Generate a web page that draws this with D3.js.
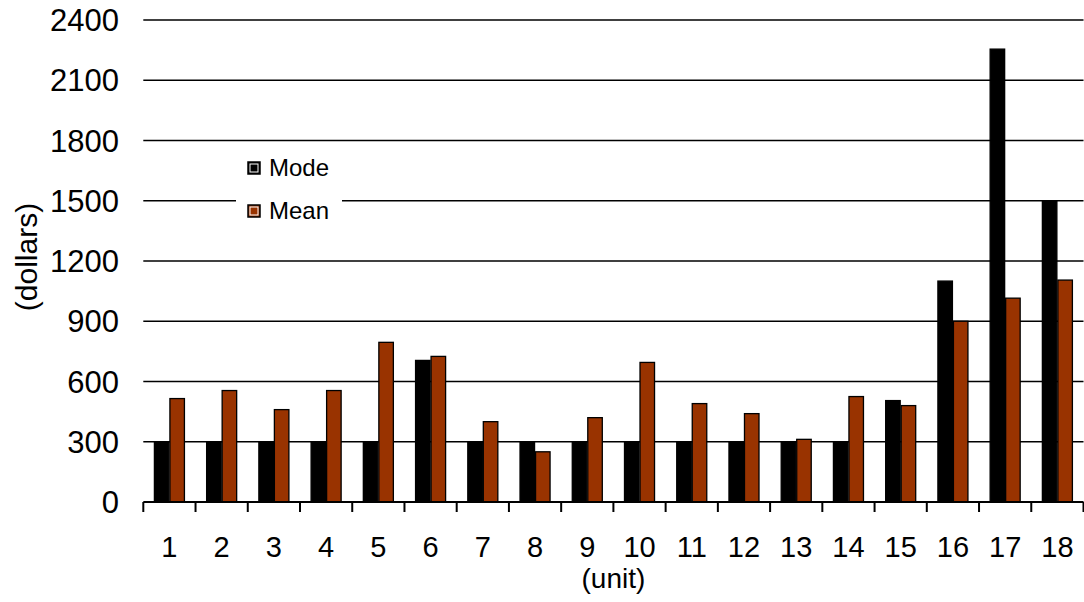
<!DOCTYPE html>
<html>
<head>
<meta charset="utf-8">
<script src="https://cdn.jsdelivr.net/npm/d3@7"></script>
<style>
  body { margin: 0; background: #fff; }
  svg { display: block; font-family: "Liberation Sans", Arial, sans-serif; }
</style>
</head>
<body>
<svg id="chart" width="1084" height="602"></svg>
<script>
const categories = ["1","2","3","4","5","6","7","8","9","10","11","12","13","14","15","16","17","18"];
const modeValues = [300,300,300,300,300,705,300,300,300,300,300,300,300,300,505,1100,2255,1500];
const meanValues = [515,555,460,555,795,725,400,250,420,695,490,440,312,525,480,900,1015,1105];
const yTicks = [0,300,600,900,1200,1500,1800,2100,2400];
const seriesNames = ["Mode","Mean"];
const seriesColors = ["#000000","#993300"];

(function () {
const svg = d3.select("#chart");
const pLeft = 143.3, pRight = 1083.5, pTop = 20, pBottom = 502;

const x0 = d3.scaleBand().domain(categories).range([pLeft, pRight]).paddingInner(0.406).paddingOuter(0.203);
const x1 = d3.scaleBand().domain(seriesNames).range([0, x0.bandwidth()]).padding(0);
const y = d3.scaleLinear().domain([0, 2400]).range([pBottom, pTop]);

// gridlines
svg.append("g").selectAll("line").data(yTicks.filter(d => d > 0)).join("line")
  .attr("x1", pLeft).attr("x2", pRight)
  .attr("y1", d => y(d)).attr("y2", d => y(d))
  .attr("stroke", "#000").attr("stroke-width", 1.6);

// y tick labels
svg.append("g").selectAll("text").data(yTicks).join("text")
  .attr("x", 119).attr("y", d => y(d)).attr("dy", "0.36em")
  .attr("text-anchor", "end").attr("font-size", 31).attr("fill", "#000")
  .text(d => d);

// bars
const data = categories.map((c, i) => ({cat: c, vals: [
  {s: "Mode", v: modeValues[i], c: seriesColors[0]},
  {s: "Mean", v: meanValues[i], c: seriesColors[1]}
]}));
const groups = svg.append("g").selectAll("g").data(data).join("g")
  .attr("transform", d => `translate(${x0(d.cat)},0)`);
groups.selectAll("rect").data(d => d.vals).join("rect")
  .attr("x", d => x1(d.s) + 0.5)
  .attr("width", x1.bandwidth() - 1)
  .attr("y", d => y(d.v))
  .attr("height", d => pBottom - y(d.v))
  .attr("fill", d => d.c)
  .attr("stroke", "#000").attr("stroke-width", 1.3);

// x axis line + ticks
const step = x0.step();
const boundaries = d3.range(categories.length + 1).map(i => pLeft + i * step);
svg.append("line").attr("x1", pLeft).attr("x2", pRight).attr("y1", pBottom).attr("y2", pBottom)
  .attr("stroke", "#000").attr("stroke-width", 2);
svg.append("g").selectAll("line").data(boundaries).join("line")
  .attr("x1", d => d).attr("x2", d => d).attr("y1", pBottom).attr("y2", pBottom + 10)
  .attr("stroke", "#000").attr("stroke-width", 2);

// x tick labels
svg.append("g").selectAll("text").data(categories).join("text")
  .attr("x", d => x0(d) + x0.bandwidth() / 2).attr("y", 557)
  .attr("text-anchor", "middle").attr("font-size", 29).attr("fill", "#000")
  .text(d => d);

// axis titles
svg.append("text").attr("x", (pLeft + pRight) / 2).attr("y", 588)
  .attr("text-anchor", "middle").attr("font-size", 28).text("(unit)");
svg.append("text").attr("transform", "translate(37,257) rotate(-90)")
  .attr("text-anchor", "middle").attr("font-size", 30).text("(dollars)");

// legend
const lg = svg.append("g");
lg.append("rect").attr("x", 236).attr("y", 146).attr("width", 106).attr("height", 80).attr("fill", "#fff");
const items = lg.selectAll("g").data(seriesNames).join("g")
  .attr("transform", (d, i) => `translate(248,${162 + i * 43})`);
items.append("rect").attr("x", 0).attr("y", 0).attr("width", 12).attr("height", 12)
  .attr("fill", (d, i) => seriesColors[i]).attr("stroke", "#000").attr("stroke-width", 1.5);
items.append("rect").attr("x", 2).attr("y", 2).attr("width", 8).attr("height", 8)
  .attr("fill", "none").attr("stroke", "#fff").attr("stroke-width", 1);
items.append("text").attr("x", 21).attr("y", 14).attr("font-size", 24).text(d => d);
})();
</script>
</body>
</html>
